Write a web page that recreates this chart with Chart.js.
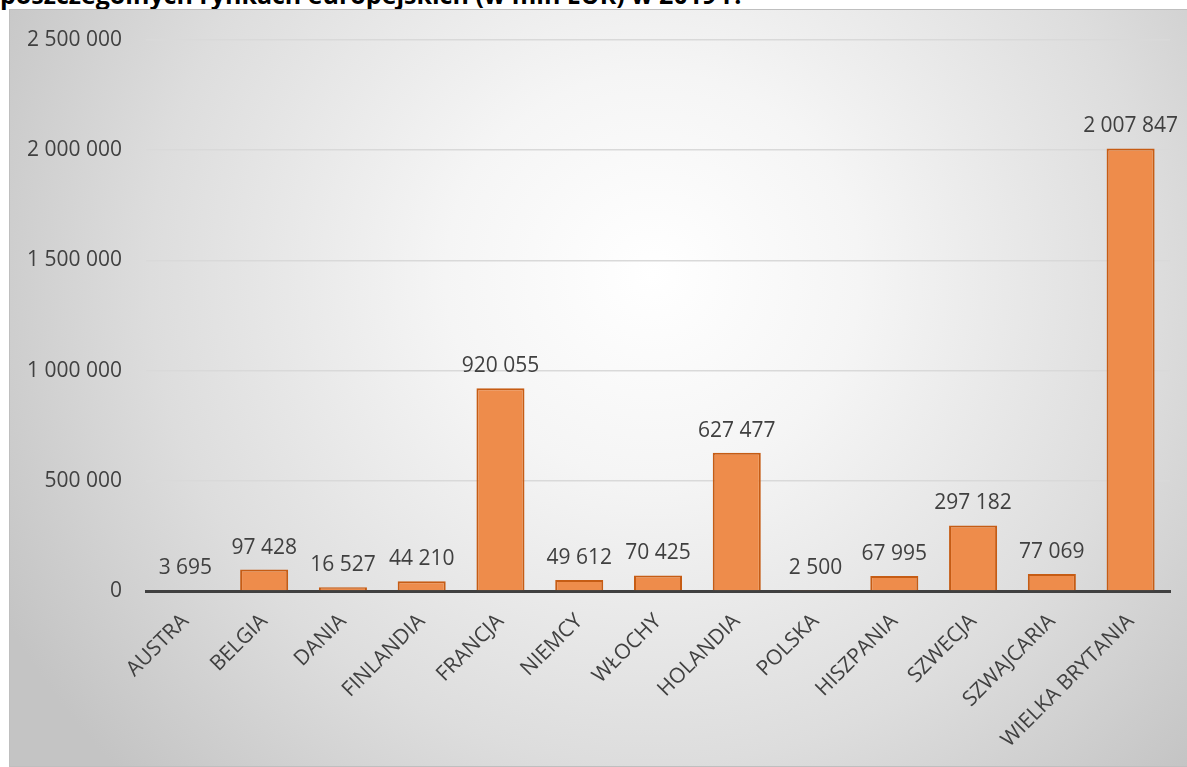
<!DOCTYPE html>
<html lang="pl">
<head>
    <meta charset="UTF-8">
    <title>Rynki europejskie 2019</title>
    <style>
        body {
            margin: 0;
            padding: 0;
            width: 1187px;
            height: 767px;
            overflow: hidden;
            background: #ffffff;
            font-family: "Open Sans", Arial, sans-serif;
        }
        #title {
            position: absolute;
            left: 0;
            top: -21px;
            font-family: "Open Sans", Arial, sans-serif;
            font-weight: bold;
            font-size: 25px;
            line-height: 30px;
            color: #000;
            white-space: nowrap;
        }
        #frame {
            position: absolute;
            left: 9px;
            top: 9px;
            width: 1190px;
            height: 756px;
            border: 1px solid #bfbfbf;
            background: radial-gradient(ellipse 62% 95% at 54% 35%, #ffffff 0%, #f5f5f5 28%, #dddddd 68%, #c4c4c4 100%);
        }
        #chart {
            position: absolute;
            left: 0;
            top: 0;
        }
    </style>
</head>
<body>
    <div id="title">poszczególnych rynkach europejskich (w mln EUR) w 2019 r.</div>
    <div id="frame"></div>
    <canvas id="chart" width="1187" height="767"></canvas>
    <script src="https://cdn.jsdelivr.net/npm/chart.js"></script>
    <script>
        var categories = ['AUSTRA', 'BELGIA', 'DANIA', 'FINLANDIA', 'FRANCJA', 'NIEMCY', 'WŁOCHY',
                          'HOLANDIA', 'POLSKA', 'HISZPANIA', 'SZWECJA', 'SZWAJCARIA', 'WIELKA BRYTANIA'];
        var values = [3695, 97428, 16527, 44210, 920055, 49612, 70425,
                      627477, 2500, 67995, 297182, 77069, 2007847];
        var yTicks = [0, 500000, 1000000, 1500000, 2000000, 2500000];

        var textColor = '#404040';
        var fontFamily = '"Open Sans", Arial, sans-serif';

        // 2007847 -> "2 007 847"
        function fmt(v) {
            return String(v).replace(/\B(?=(\d{3})+(?!\d))/g, ' ');
        }

        // value labels above each bar
        var barLabels = {
            id: 'barLabels',
            afterDatasetsDraw: function(chart) {
                var ctx = chart.ctx;
                var meta = chart.getDatasetMeta(0);
                ctx.save();
                ctx.font = '21px ' + fontFamily;
                ctx.fillStyle = textColor;
                ctx.textAlign = 'center';
                ctx.textBaseline = 'middle';
                meta.data.forEach(function(bar, i) {
                    ctx.fillText(fmt(chart.data.datasets[0].data[i]), bar.x, bar.y - 22);
                });
                ctx.restore();
            }
        };

        var ctx = document.getElementById('chart').getContext('2d');
        var myChart = new Chart(ctx, {
            type: 'bar',
            data: {
                labels: categories,
                datasets: [{
                    data: values,
                    backgroundColor: '#ee8c4b',
                    borderColor: '#c65c14',
                    borderWidth: 2,
                    categoryPercentage: 1.0,
                    barPercentage: 0.61
                }]
            },
            options: {
                responsive: false,
                animation: false,
                layout: {
                    padding: { left: 0, top: 40, right: 17, bottom: 0 }
                },
                plugins: {
                    legend: { display: false },
                    tooltip: { enabled: false }
                },
                scales: {
                    x: {
                        grid: { display: false, drawTicks: false },
                        border: { display: true, color: '#404040', width: 3 },
                        ticks: {
                            color: textColor,
                            font: { family: fontFamily, size: 21 },
                            minRotation: 45,
                            maxRotation: 45,
                            padding: 18,
                            autoSkip: false
                        },
                        afterFit: function(scale) { scale.height = 176; }
                    },
                    y: {
                        min: 0,
                        max: 2500000,
                        grid: { color: '#d9d9d9', lineWidth: 1.5, drawTicks: false },
                        border: { display: false },
                        ticks: {
                            color: textColor,
                            font: { family: fontFamily, size: 21 },
                            padding: 24,
                            callback: function(v) { return fmt(v); }
                        },
                        afterBuildTicks: function(scale) {
                            scale.ticks = yTicks.map(function(v) { return { value: v }; });
                        },
                        afterFit: function(scale) { scale.width = 146; }
                    }
                }
            },
            plugins: [barLabels]
        });
    </script>
</body>
</html>
